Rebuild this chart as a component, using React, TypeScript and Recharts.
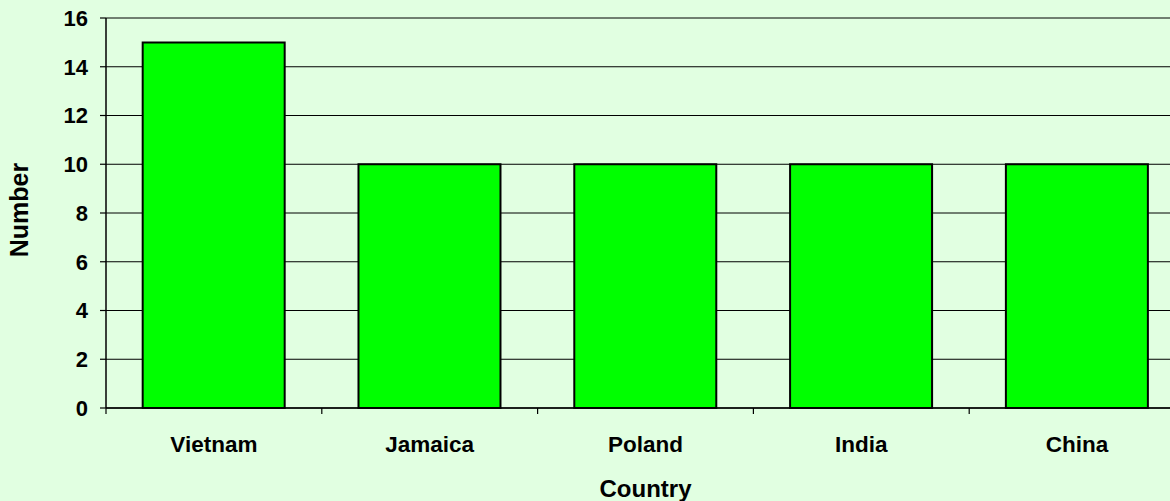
import React from 'react';
import { BarChart, Bar, XAxis, YAxis, CartesianGrid } from 'recharts';

const countries = ['Vietnam', 'Jamaica', 'Poland', 'India', 'China'];
const numbers = [15, 10, 10, 10, 10];
const yTicks = [0, 2, 4, 6, 8, 10, 12, 14, 16];

const data = countries.map((c, i) => ({ country: c, value: numbers[i] }));

const FONT = '"Liberation Sans", Arial, Helvetica, sans-serif';

const XTick = (props: any) => {
  const { x, y, payload } = props;
  const off = payload && typeof payload.offset === 'number' ? payload.offset : 0;
  return (
    <g>
      <line x1={x - off} y1={y} x2={x - off} y2={y + 6} stroke="#000" strokeWidth={1.2} />
      <text x={x} y={y + 44} textAnchor="middle" fontFamily={FONT} fontWeight="bold" fontSize={22.5} fill="#000">
        {payload.value}
      </text>
    </g>
  );
};

const YLabel = (props: any) => {
  const vb = props.viewBox || { x: 0, y: 18, width: 106, height: 390 };
  const cx = (vb.x || 0) + 28;
  const cy = vb.y + vb.height / 2 - 3;
  return (
    <text
      transform={`translate(${cx},${cy}) rotate(-90)`}
      textAnchor="middle"
      fontFamily={FONT}
      fontWeight="bold"
      fontSize={25}
      fill="#000"
    >
      Number
    </text>
  );
};

export default function App() {
  return (
    <div
      style={{
        position: 'fixed',
        left: 0,
        top: 0,
        width: 1170,
        height: 501,
        overflow: 'hidden',
        background: '#E1FFE1',
      }}
    >
      <BarChart
        width={1190}
        height={501}
        data={data}
        margin={{ top: 18, right: 5, bottom: 0, left: 0 }}
        barCategoryGap="17%"
      >
        <CartesianGrid vertical={false} stroke="#000" strokeWidth={1} />
        <XAxis
          dataKey="country"
          height={93}
          tickLine={false}
          tickSize={0}
          tickMargin={0}
          axisLine={{ stroke: '#000', strokeWidth: 1.5 }}
          tick={<XTick />}
          interval={0}
          label={{
            value: 'Country',
            position: 'insideBottom',
            offset: 4,
            style: { fontFamily: FONT, fontWeight: 'bold', fontSize: 24, fill: '#000' },
          }}
        />
        <YAxis
          width={106}
          domain={[0, 16]}
          ticks={yTicks}
          interval={0}
          tickSize={6}
          tickMargin={12}
          axisLine={{ stroke: '#000', strokeWidth: 1.5 }}
          tickLine={{ stroke: '#000', strokeWidth: 1.2 }}
          tick={{ fontFamily: FONT, fontWeight: 'bold', fontSize: 22, fill: '#000' }}
          label={<YLabel />}
        />
        <Bar
          dataKey="value"
          fill="#00FF00"
          stroke="#000"
          strokeWidth={2}
          isAnimationActive={false}
        />
      </BarChart>
    </div>
  );
}
